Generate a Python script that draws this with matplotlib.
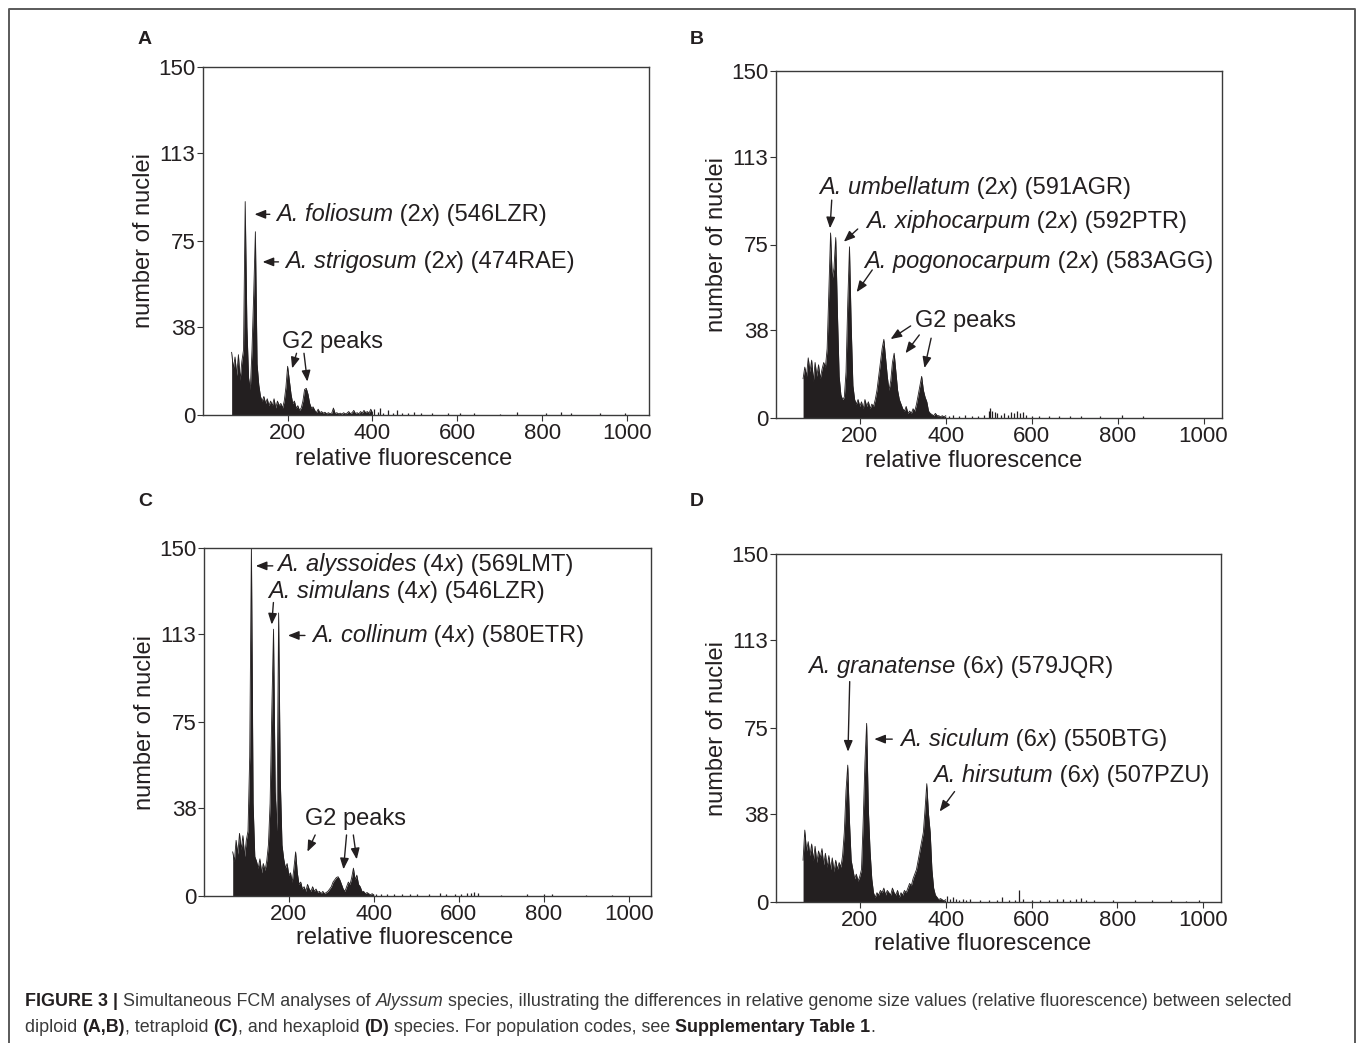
import matplotlib.pyplot as plt
import matplotlib.lines as mlines

plt.rcParams['font.family'] = 'Liberation Sans'

INK = '#231f20'

# ---------- data: histogram channels (relative fluorescence) ----------
channels = list(range(68, 401, 4))

a_counts = [27, 20, 25, 17, 26, 15, 23, 28, 92, 38, 16, 11,
            28, 52, 79, 22, 13, 8, 6, 8, 5, 7, 4, 6,
            4, 7, 3, 6, 4, 5, 3, 6, 12, 21, 15, 9,
            5, 6, 3, 4, 2, 3, 6, 11, 11.5, 9, 5, 3,
            3.5, 2, 1, 2.5, 1, 1.5, 0.8, 1.2, 0.5, 1, 0.6, 0.8,
            3, 0.6, 1, 0.5, 0.8, 0.4, 1, 0.5, 0.8, 1.5, 0.6, 1,
            2, 0.6, 1, 0.5, 1.5, 0.8, 2, 1, 1.5, 0.8, 2.5, 1]
b_counts = [17, 22, 18, 26, 20, 25, 16, 24, 18, 23, 17, 21,
            24, 22, 30, 55, 80, 60, 65, 78, 45, 18, 10, 8,
            9, 20, 50, 74, 40, 14, 8, 6, 8, 5, 7, 4,
            8, 5, 7, 4, 6, 5, 8, 12, 18, 24, 30, 34,
            26, 18, 12, 16, 24, 28, 20, 12, 8, 6, 4, 3,
            5, 2, 3, 2, 4, 3, 6, 10, 14, 18, 12, 9,
            7, 3, 2, 1.5, 1, 2, 1, 1, 0.5, 1, 0.5, 1]
c_counts = [19, 15, 24, 18, 27, 20, 26, 17, 24, 28, 60, 152,
            40, 17, 15, 12, 16, 10, 14, 11, 15, 22, 40, 80,
            115, 45, 28, 122, 50, 22, 16, 12, 14, 9, 10, 6,
            12, 19, 10, 5, 6, 3, 4, 2, 5, 3, 2, 4,
            2, 3, 1.5, 2, 1, 2, 1, 1.5, 2, 3, 4, 6,
            7, 8, 8.3, 7, 5, 3, 2, 4, 6, 5, 8, 12,
            7, 9, 5, 4, 2, 2, 1, 1.5, 1, 0.5, 1, 0.5]
d_counts = [18, 31, 22, 26, 20, 25, 18, 24, 17, 22, 19, 23,
            16, 21, 15, 20, 14, 19, 13, 18, 14, 17, 15, 20,
            30, 48, 59, 35, 18, 14, 10, 12, 9, 11, 14, 35,
            60, 77, 40, 22, 10, 4, 2, 4, 3, 5, 4, 6,
            3, 5, 4, 3, 6, 4, 3, 5, 2, 4, 3, 5,
            4, 6, 8, 7, 10, 12, 14, 18, 22, 26, 30, 40,
            51, 38, 30, 14, 6, 3, 2, 1, 1.5, 1, 0.5, 1]

# sparse counts in the high-fluorescence tail
a_tail_ch = [404, 412, 418, 426, 436, 448, 458, 470, 484, 498, 515, 540, 578, 607, 640, 700, 740, 808, 844, 868, 936, 996]
a_tail_cnt = [2.5, 1.5, 3, 1, 2, 1, 2, 1, 1, 1.5, 0.8, 0.8, 0.8, 1, 0.8, 0.6, 1.5, 1, 1.5, 1, 0.8, 1]
b_tail_ch = [408, 416, 430, 446, 462, 476, 490, 500, 504, 508, 514, 520, 528, 536, 544, 552, 560, 566, 572, 580, 588,
             600, 618, 640, 664, 690, 716, 760, 810, 860]
b_tail_cnt = [1, 1.5, 1, 1.5, 1, 1, 1.5, 3, 4.5, 3, 2.5, 2, 1.5, 2, 1.5, 2.5, 2, 3, 2, 2.5, 1.5,
              1, 0.8, 1, 0.8, 0.8, 1, 1, 1.5, 0.8]
c_tail_ch = [406, 418, 432, 448, 466, 484, 502, 530, 556, 570, 590, 606, 620, 628, 636, 644, 700, 760, 800, 820, 900, 960]
c_tail_cnt = [1, 0.8, 1, 0.8, 1, 0.8, 1, 0.8, 1.2, 0.8, 1, 1, 1.5, 1.2, 1.8, 1.2, 0.6, 0.8, 1, 0.8, 0.6, 0.6]
d_tail_ch = [404, 410, 416, 424, 432, 440, 448, 456, 480, 500, 520, 532, 548, 562, 571, 580, 600, 620, 640, 660,
             672, 690, 704, 714, 726, 746, 790, 840, 880, 924, 960, 990]
d_tail_cnt = [2.5, 1.5, 2, 1.5, 1, 1.5, 1, 1.5, 0.8, 1, 0.8, 2, 1, 1, 5, 1.5, 1, 0.8, 1, 1.2,
              1.5, 1, 1.5, 1.8, 1, 1, 0.8, 0.8, 0.8, 1, 0.6, 0.8]

x_ticks = [200, 400, 600, 800, 1000]
y_ticks = [0, 38, 75, 113, 150]

# ---------- layout (pixels of the 1357 x 1043 canvas) ----------
W, H = 1357, 1043
fig = plt.figure(figsize=(W / 100, H / 100), dpi=100)
renderer = fig.canvas.get_renderer()


def box(left, top, right, bottom):
    return [left / W, 1 - bottom / H, (right - left) / W, (bottom - top) / H]


def draw_runs(runs, x, y, size, color):
    # runs of (text, style, weight) laid side by side; x, y = baseline start in display px
    for s, style, weight in runs:
        t = fig.text(x / W, y / H, s, fontsize=size, fontstyle=style, fontweight=weight,
                     ha='left', va='baseline', color=INK if weight == 'bold' else color)
        x += t.get_window_extent(renderer).width


def label(name, ploidy, code):
    return [(name, 'italic', 'normal'), (' (' + ploidy, 'normal', 'normal'),
            ('x', 'italic', 'normal'), (') (' + code + ')', 'normal', 'normal')]


panels = [
    dict(letter='A', lpos=(145, 40), rect=box(203, 67, 649, 415), xlim=(0.5, 1052),
         counts=a_counts, tail=(a_tail_ch, a_tail_cnt), xlab=(0.449, -0.127), ylab=(-0.132, 0.5),
         notes=[(label('A. foliosum', '2', '546LZR'), (172, 86.5), [((158, 86.5), (122, 86.5))]),
                (label('A. strigosum', '2', '474RAE'), (194.5, 66), [((178.5, 66), (141, 66))]),
                ('G2 peaks', (305, 31.6), [((221, 26.6), (210.6, 20.1)), ((238.6, 26.6), (246.6, 14.4))])]),
    dict(letter='B', lpos=(697, 40), rect=box(776, 71, 1222, 418), xlim=(5, 1043),
         counts=b_counts, tail=(b_tail_ch, b_tail_cnt), xlab=(0.444, -0.125), ylab=(-0.132, 0.5),
         notes=[(label('A. umbellatum', '2', '591AGR'), (105, 99.6), [((134.7, 94.2), (130.7, 82))]),
                (label('A. xiphocarpum', '2', '592PTR'), (213.7, 84.8), [((195.2, 81.7), (162.9, 76.2))]),
                (label('A. pogonocarpum', '2', '583AGG'), (211.3, 67.6), [((229, 64), (192.7, 54.4))]),
                ('G2 peaks', (447, 42.1), [((318.4, 39.8), (271.7, 34.1)), ((338.5, 35.9), (306.4, 28)),
                                           ((366, 34.5), (350.6, 21.6))])]),
    dict(letter='C', lpos=(145, 502), rect=box(204, 548, 651, 896), xlim=(0.5, 1052),
         counts=c_counts, tail=(c_tail_ch, c_tail_cnt), xlab=(0.449, -0.122), ylab=(-0.132, 0.5),
         notes=[(label('A. alyssoides', '4', '569LMT'), (171.8, 142.8), [((162.3, 142.3), (122.3, 142.3))]),
                (label('A. simulans', '4', '546LZR'), (150.3, 131.2), [((163.8, 126.5), (159.8, 117))]),
                (label('A. collinum', '4', '580ETR'), (254, 112.3), [((238, 112.3), (198, 112.3))]),
                ('G2 peaks', (355.8, 33), [((262, 26.3), (243.8, 19.1)), ((335.8, 26.3), (328.6, 11.5)),
                                           ((351.8, 26.3), (359.8, 15.8))])]),
    dict(letter='D', lpos=(697, 502), rect=box(776, 554, 1221, 902), xlim=(5, 1041),
         counts=d_counts, tail=(d_tail_ch, d_tail_cnt), xlab=(0.465, -0.121), ylab=(-0.132, 0.5),
         notes=[(label('A. granatense', '6', '579JQR'), (80.7, 101.5), [((176.6, 95), (172.6, 64.8))]),
                (label('A. siculum', '6', '550BTG'), (293.4, 70.2), [((275.7, 70.2), (233.8, 70.2))]),
                (label('A. hirsutum', '6', '507PZU'), (370.8, 54.4), [((420.7, 47.6), (386, 39))])]),
]

for p in panels:
    ax = fig.add_axes(p['rect'])
    ax.fill_between(channels, 0, p['counts'], color=INK, lw=0)
    ax.plot(channels, p['counts'], color=INK, lw=0.6)
    ax.vlines(p['tail'][0], 0, p['tail'][1], color=INK, lw=0.9)

    ax.set_xlim(*p['xlim'])
    ax.set_ylim(0, 150)
    ax.set_xticks(x_ticks)
    ax.set_yticks(y_ticks)
    ax.tick_params(direction='out', length=4, width=0.8, color='#333333',
                   labelsize=16, pad=1.5, labelcolor=INK)
    for s in ax.spines.values():
        s.set_linewidth(1.0)
        s.set_color('#3a3a3a')

    ax.set_xlabel('relative fluorescence', fontsize=17, color=INK)
    ax.set_ylabel('number of nuclei', fontsize=17, color=INK)
    ax.xaxis.set_label_coords(*p['xlab'])
    ax.yaxis.set_label_coords(*p['ylab'])
    ax.xaxis.label.set_va('center')
    ax.yaxis.label.set_va('center')

    for txt, pos, arrows in p['notes']:
        if isinstance(txt, str):
            ax.text(pos[0], pos[1], txt, fontsize=17, ha='center', va='center', color=INK)
        else:
            xd, yd = ax.transData.transform(pos)
            draw_runs(txt, xd, yd - 6.5, 17, INK)
        for tail, head in arrows:
            ax.annotate('', xy=head, xytext=tail,
                        arrowprops=dict(arrowstyle='-|>,head_length=0.55,head_width=0.22',
                                        mutation_scale=12, lw=1.0, color=INK,
                                        shrinkA=0, shrinkB=0))

    fig.text(p['lpos'][0] / W, 1 - p['lpos'][1] / H, p['letter'], fontsize=14,
             fontweight='bold', ha='center', va='center', color=INK)

# ---------- outer frame (open at the bottom) ----------
frame_x = [8.5 / W, 8.5 / W, 1355 / W, 1355 / W]
frame_y = [0, 1 - 9 / H, 1 - 9 / H, 0]
fig.add_artist(mlines.Line2D(frame_x, frame_y, color='#5a5a5a', lw=1.4))

# ---------- caption ----------
cap_line1 = [('FIGURE 3 | ', 'normal', 'bold'), ('Simultaneous FCM analyses of ', 'normal', 'normal'),
             ('Alyssum', 'italic', 'normal'),
             (' species, illustrating the differences in relative genome size values (relative fluorescence) '
              'between selected', 'normal', 'normal')]
cap_line2 = [('diploid ', 'normal', 'normal'), ('(A,B)', 'normal', 'bold'), (', tetraploid ', 'normal', 'normal'),
             ('(C)', 'normal', 'bold'), (', and hexaploid ', 'normal', 'normal'), ('(D)', 'normal', 'bold'),
             (' species. For population codes, see ', 'normal', 'normal'),
             ('Supplementary Table 1', 'normal', 'bold'), ('.', 'normal', 'normal')]

draw_runs(cap_line1, 25, H - 1006, 12.85, '#3a3a3a')
draw_runs(cap_line2, 25, H - 1032, 12.85, '#3a3a3a')

fig.savefig('out.png', dpi=100, facecolor='white')
